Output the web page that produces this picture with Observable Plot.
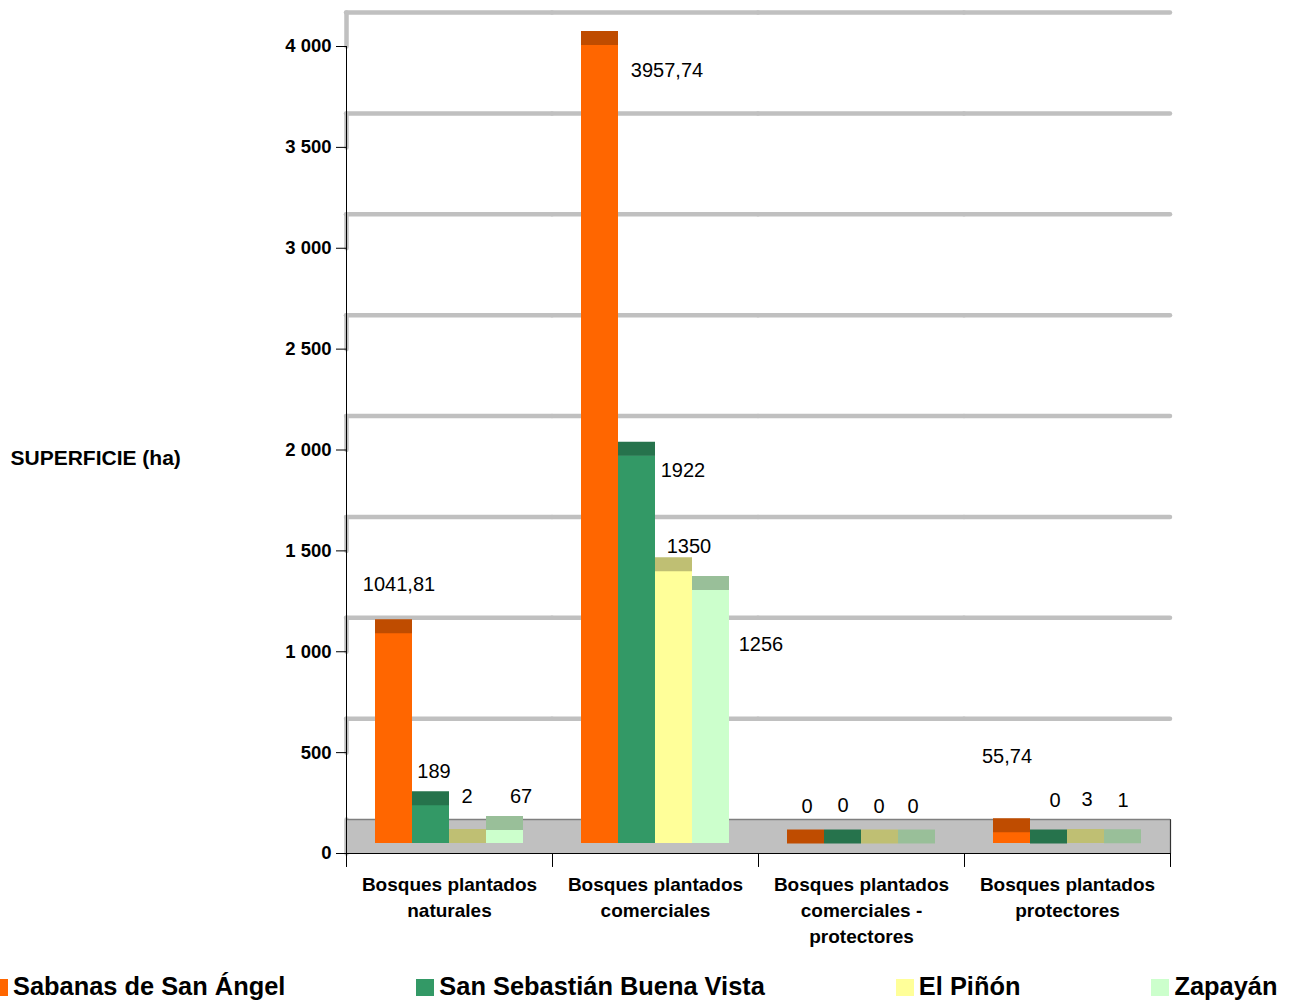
<!DOCTYPE html>
<html>
<head>
<meta charset="utf-8">
<script src="https://cdn.jsdelivr.net/npm/d3@7"></script>
<script src="https://cdn.jsdelivr.net/npm/@observablehq/plot@0.6"></script>
<style>
  html, body { margin: 0; padding: 0; background: #fff; overflow: hidden; }
  body { width: 1296px; height: 1000px; position: relative; font-family: "Liberation Sans", Arial, sans-serif; }
  #legend { position: absolute; left: -10px; top: 971px; display: flex; gap: 131px; white-space: nowrap;
            font-weight: bold; font-size: 25.4px; line-height: 30px; color: #000; }
  #legend .item { display: flex; align-items: center; }
  #legend .sw { width: 18px; height: 17px; margin-right: 5px; margin-top: 3px; }
</style>
</head>
<body>
<div id="chart"></div>
<div id="legend"></div>
<script>
// ---- data ----
const categories = [
  "Bosques plantados\nnaturales",
  "Bosques plantados\ncomerciales",
  "Bosques plantados\ncomerciales -\nprotectores",
  "Bosques plantados\nprotectores"
];
const seriesNames = ["Sabanas de San Ángel", "San Sebastián Buena Vista", "El Piñón", "Zapayán"];
const sabanasDeSanAngel = [1041.81, 3957.74, 0, 55.74];
const sanSebastianBuenaVista = [189, 1922, 0, 0];
const elPinon = [2, 1350, 0, 3];
const zapayan = [67, 1256, 0, 1];
const yTicks = [0, 500, 1000, 1500, 2000, 2500, 3000, 3500, 4000];
const yTitle = "SUPERFICIE (ha)";

// ---- styling ----
const frontColors = ["#FF6600", "#339966", "#FFFF99", "#CCFFCC"];
const topColors = ["#BF4C00", "#26734C", "#BFBF73", "#99BF99"];
// label nudges (pixels, relative to bar centre / value position) per category, per series
const labelNudge = [
  [[5, -59], [3, -44], [-1, -57], [16, -43]],
  [[67, 16], [46, 5], [15, -35], [50, 44]],
  [[1, -47], [0, -48], [-1, -47], [-4, -47]],
  [[-5, -86], [6, -53], [1, -53], [0, -53]]
];

const seriesValues = [sabanasDeSanAngel, sanSebastianBuenaVista, elPinon, zapayan];
const rows = categories.flatMap((c, ci) => seriesNames.map((s, si) => ({
  category: c, series: s, si, ci, value: seriesValues[si][ci]
})));
const fmt = v => String(v).replace(".", ",");
const grid = "#C0C0C0";
const depth = 34;     // back-wall offset of the pseudo-3D chart
const barLift = 10;   // bars sit inside the floor

const labelMarks = rows.map(d => Plot.text([d], {
  fx: "category", x: "series", y: "value", text: r => fmt(r.value),
  dx: labelNudge[d.ci][d.si][0], dy: labelNudge[d.ci][d.si][1],
  fontSize: 20, fill: "#000"
}));

const chart = Plot.plot({
  width: 1296,
  height: 960,
  marginLeft: 346,
  marginRight: 126,
  marginTop: 46,
  marginBottom: 107,
  style: { fontFamily: "'Liberation Sans', Arial, sans-serif", background: "#fff", overflow: "visible" },
  fx: { domain: categories, padding: 0 },
  x: { domain: seriesNames, paddingInner: 0, paddingOuter: 0.73, axis: null },
  y: { domain: [0, 4000] },
  color: { domain: seriesNames, range: frontColors },
  marks: [
    // back wall gridlines
    Plot.ruleY(yTicks.slice(1), { dy: -depth, stroke: grid, strokeWidth: 4.5, strokeLinecap: "round" }),
    // side wall segments (first facet only)
    Plot.vector(yTicks, { fx: () => categories[0], y: d => d, frameAnchor: "left", length: depth, rotate: 0,
      anchor: "start", r: 0, stroke: grid, strokeWidth: 4.5 }),
    // floor
    Plot.ruleY([0], { dy: -depth / 2, stroke: grid, strokeWidth: depth }),
    Plot.ruleY([0], { dy: -depth, stroke: "#7f7f7f", strokeWidth: 1.5 }),
    Plot.vector([0], { fx: () => categories[3], frameAnchor: "bottom-right", length: depth, rotate: 0,
      anchor: "start", r: 0, stroke: "#333", strokeWidth: 1.2 }),
    // bars (front faces)
    Plot.barY(rows, { fx: "category", x: "series", y: "value", fill: "series", dy: -barLift }),
    // bar tops
    Plot.tickY(rows, { fx: "category", x: "series", y: "value", stroke: d => topColors[d.si],
      strokeWidth: 14, dy: -barLift - 7 }),
    // axes
    Plot.ruleY([0], { stroke: "#000", strokeWidth: 1 }),
    Plot.frame({ anchor: "left", fx: () => categories[0], stroke: "#000" }),
    Plot.vector([0], { frameAnchor: "bottom-left", length: 13, rotate: 180, anchor: "start", r: 0, stroke: "#000", strokeWidth: 1 }),
    Plot.vector([0], { fx: () => categories[3], frameAnchor: "bottom-right", length: 13, rotate: 180, anchor: "start", r: 0, stroke: "#000", strokeWidth: 1 }),
    Plot.axisY({ ticks: yTicks, tickFormat: d => d3.format(",")(d).replace(/,/g, " "), tickSize: 10, tickPadding: 5,
      fontSize: 18.5, fontWeight: "bold", label: null }),
    Plot.axisFx({ anchor: "bottom", tickSize: 0, tickPadding: 19, fontSize: 19, fontWeight: "bold",
      lineHeight: 1.37, label: null }),
    Plot.text([yTitle], { fx: () => categories[0], frameAnchor: "left", textAnchor: "start", dx: -336, dy: 8,
      fontSize: 21, fontWeight: "bold", fill: "#000" }),
    ...labelMarks
  ]
});
document.getElementById("chart").appendChild(chart);

// legend
const legend = document.getElementById("legend");
seriesNames.forEach((s, i) => {
  const item = document.createElement("div");
  item.className = "item";
  const sw = document.createElement("span");
  sw.className = "sw";
  sw.style.background = frontColors[i];
  const t = document.createElement("span");
  t.textContent = s;
  item.appendChild(sw);
  item.appendChild(t);
  legend.appendChild(item);
});
</script>
</body>
</html>
